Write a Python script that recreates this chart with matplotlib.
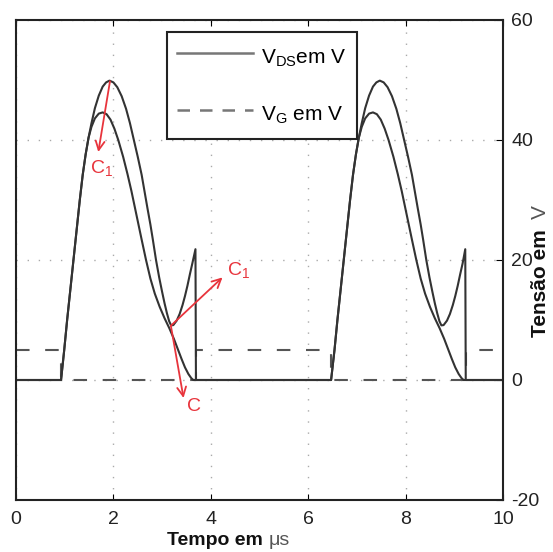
import matplotlib
matplotlib.use("Agg")
import matplotlib.pyplot as plt
from matplotlib.lines import Line2D

plt.rcParams["font.family"] = ["Liberation Sans", "DejaVu Sans"]
plt.rcParams["axes.unicode_minus"] = False
plt.rcParams["mathtext.fontset"] = "custom"
plt.rcParams["mathtext.rm"] = "Liberation Sans"

# ---- drain-source voltage, larger capacitance case (upper peak, second bump) ----
vds_a_t = [0.00, 0.925, 0.99, 1.05, 1.115, 1.18, 1.245, 1.31, 1.37, 1.43, 1.49,
           1.55, 1.62, 1.70, 1.78, 1.85, 1.92, 2.00, 2.08, 2.17, 2.26, 2.34,
           2.42, 2.50, 2.58, 2.64, 2.70, 2.76, 2.81, 2.875, 2.94, 3.00, 3.05,
           3.10, 3.145, 3.185, 3.23, 3.30, 3.36, 3.42, 3.47, 3.52, 3.57, 3.62,
           3.685, 3.695,
           6.47, 6.54, 6.60, 6.665, 6.73, 6.795, 6.86, 6.92, 6.98, 7.04,
           7.10, 7.17, 7.25, 7.33, 7.40, 7.47, 7.55, 7.63, 7.72, 7.81, 7.89,
           7.97, 8.05, 8.13, 8.19, 8.25, 8.31, 8.36, 8.425, 8.49, 8.55, 8.60,
           8.65, 8.695, 8.735, 8.78, 8.85, 8.91, 8.97, 9.02, 9.07, 9.12, 9.17,
           9.225, 9.235, 10.0]
vds_a = [0.0, 0.0, 5.0, 10.0, 15.0, 20.0, 25.0, 30.0, 34.2, 37.6, 40.4,
         42.8, 45.3, 47.4, 48.9, 49.6, 49.9, 49.6, 48.8, 47.3, 45.2, 42.8,
         40.0, 37.2, 34.2, 31.4, 28.6, 25.9, 23.4, 20.0, 17.1, 14.7, 12.8,
         11.1, 9.8, 9.1, 9.15, 9.9, 11.0, 12.5, 14.0, 15.7, 17.6, 19.4,
         21.8, 0.0,
         0.0, 5.0, 10.0, 15.0, 20.0, 25.0, 30.0, 34.2, 37.6, 40.4,
         42.8, 45.3, 47.4, 48.9, 49.6, 49.9, 49.6, 48.8, 47.3, 45.2, 42.8,
         40.0, 37.2, 34.2, 31.4, 28.6, 25.9, 23.4, 20.0, 17.1, 14.7, 12.8,
         11.1, 9.8, 9.1, 9.15, 9.9, 11.0, 12.5, 14.0, 15.7, 17.6, 19.4,
         21.8, 0.0, 0.0]

# ---- drain-source voltage, smaller capacitance case (lower peak, soft landing) ----
vds_b_t = [0.00, 0.925, 0.99, 1.05, 1.115, 1.18, 1.245, 1.31, 1.37, 1.43, 1.49,
           1.55, 1.62, 1.70, 1.78, 1.86, 1.94, 2.02, 2.10, 2.20, 2.29, 2.37,
           2.44, 2.51, 2.58, 2.67, 2.76, 2.85, 2.95, 3.05, 3.15, 3.24, 3.32,
           3.40, 3.47, 3.54, 3.60, 3.64,
           6.47, 6.54, 6.60, 6.665, 6.73, 6.795, 6.86, 6.92, 6.98, 7.04,
           7.10, 7.17, 7.25, 7.33, 7.41, 7.49, 7.57, 7.65, 7.75, 7.84, 7.92,
           7.99, 8.06, 8.13, 8.22, 8.31, 8.40, 8.50, 8.60, 8.70, 8.79, 8.87,
           8.95, 9.02, 9.09, 9.15, 9.19, 10.0]
vds_b = [0.0, 0.0, 5.0, 10.0, 15.0, 20.0, 25.0, 30.0, 34.2, 37.6, 40.4,
         42.2, 43.6, 44.4, 44.6, 44.3, 43.4, 41.9, 40.0, 37.2, 34.3, 31.5,
         28.8, 26.1, 23.4, 20.0, 16.9, 14.4, 12.2, 10.3, 8.6, 6.9, 5.2,
         3.5, 2.1, 1.0, 0.3, 0.0,
         0.0, 5.0, 10.0, 15.0, 20.0, 25.0, 30.0, 34.2, 37.6, 40.4,
         42.2, 43.6, 44.4, 44.6, 44.3, 43.4, 41.9, 40.0, 37.2, 34.3, 31.5,
         28.8, 26.1, 23.4, 20.0, 16.9, 14.4, 12.2, 10.3, 8.6, 6.9, 5.2,
         3.5, 2.1, 1.0, 0.3, 0.0, 0.0]

# ---- gate drive: level held from each switching instant onward ----
vg_t = [0.0, 0.925, 3.695, 6.47, 9.235, 10.0]
vg = [5.0, 0.0, 5.0, 0.0, 5.0, 5.0]

x_ticks = [0, 2, 4, 6, 8, 10]
y_ticks = [-20, 0, 20, 40, 60]

red = "#e8343c"
curve_col = "#333333"

fig = plt.figure(figsize=(5.53, 5.52), dpi=100)
ax = fig.add_axes([16 / 553, 52 / 552, 487 / 553, 480 / 552])

ax.set_xlim(0, 10)
ax.set_ylim(-20, 60)
ax.set_xticks(x_ticks)
ax.set_yticks(y_ticks)
ax.grid(True, color="#aaaaaa", lw=1.0, ls=(0, (1, 7)))
ax.set_axisbelow(True)

ax.step(vg_t, vg, where="post", color="#555555", lw=1.5, ls=(0, (6.5, 7.5)))
ax.plot(vds_b_t, vds_b, color=curve_col, lw=1.5)
ax.plot(vds_a_t, vds_a, color=curve_col, lw=1.5)

for s in ax.spines.values():
    s.set_linewidth(1.5)
    s.set_color("#222222")

ax.tick_params(axis="x", direction="in", top=True, bottom=True, length=4,
               labelsize=14, pad=8, labelcolor="#222222")
ax.tick_params(axis="y", direction="in", left=False, right=True, labelleft=False,
               labelright=True, length=5, labelsize=14, pad=6, labelcolor="#222222")

# arrows showing the effect of the capacitances
arrow_kw = dict(arrowstyle="->", color=red, lw=1.3, shrinkA=0, shrinkB=0,
                mutation_scale=16)
ax.annotate("", xy=(1.69, 38.0), xytext=(1.93, 49.8), arrowprops=arrow_kw)
ax.annotate("", xy=(4.24, 17.1), xytext=(3.18, 9.05), arrowprops=arrow_kw)
ax.annotate("", xy=(3.44, -3.0), xytext=(3.18, 9.05), arrowprops=arrow_kw)
ax.text(1.76, 35.3, r"$\mathregular{C_1}$", color=red, fontsize=14,
        ha="center", va="center")
ax.text(4.58, 18.3, r"$\mathregular{C_1}$", color=red, fontsize=14,
        ha="center", va="center")
ax.text(3.65, -4.4, "C", color=red, fontsize=14, ha="center", va="center")

handles = [Line2D([], [], color="#777777", lw=1.8),
           Line2D([], [], color="#777777", lw=1.8, ls=(0, (5, 4)))]
labels = [r"$\mathregular{V_{DS}}$em V", r"$\mathregular{V_G}$ em V"]
leg = ax.legend(handles, labels, loc="upper left", bbox_to_anchor=(0.310, 0.975),
                fontsize=15, frameon=True, fancybox=False, framealpha=1,
                edgecolor="#222222", borderpad=0.5, labelspacing=1.3,
                handlelength=3.65, handleheight=1.8, handletextpad=0.34,
                borderaxespad=0)
leg.get_frame().set_linewidth(1.5)

# axis titles
fig.text(167 / 553, (552 - 545) / 552, "Tempo em", fontsize=14, weight="bold",
         ha="left", va="baseline", color="#111111")
fig.text(269 / 553, (552 - 545) / 552, "μs", fontsize=14, ha="left",
         va="baseline", color="#555555")
fig.text(546 / 553, (552 - 337) / 552, "Tensão em", fontsize=15, weight="bold",
         rotation=90, rotation_mode="anchor", ha="left", va="baseline",
         color="#111111")
fig.text(546 / 553, (552 - 219) / 552, "V", fontsize=15, rotation=90,
         rotation_mode="anchor", ha="left", va="baseline", color="#555555")

fig.savefig("out.png", dpi=100)
